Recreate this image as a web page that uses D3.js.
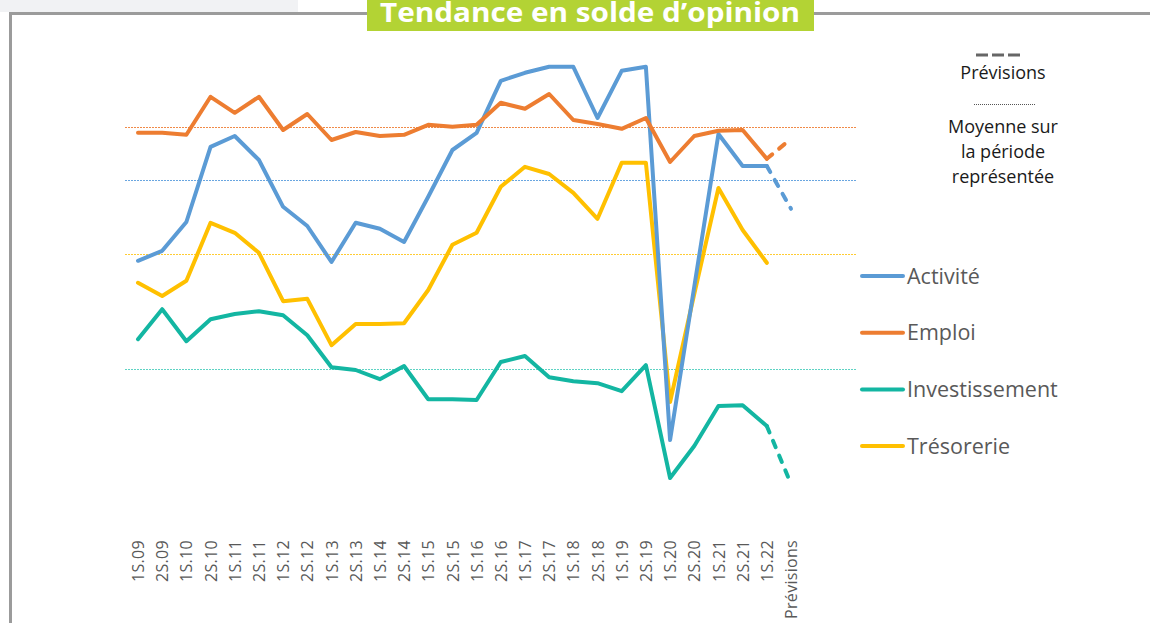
<!DOCTYPE html>
<html>
<head>
<meta charset="utf-8">
<script src="https://cdn.jsdelivr.net/npm/d3@7"></script>
<style>
  body { margin: 0; background: #fff; }
  svg { display: block; }
</style>
</head>
<body>
<svg id="chart" width="1150" height="623"></svg>
<script>
const categories = ["1S.09", "2S.09", "1S.10", "2S.10", "1S.11", "2S.11", "1S.12", "2S.12",
  "1S.13", "2S.13", "1S.14", "2S.14", "1S.15", "2S.15", "1S.16", "2S.16", "1S.17", "2S.17",
  "1S.18", "2S.18", "1S.19", "2S.19", "1S.20", "2S.20", "1S.21", "2S.21", "1S.22", "Prévisions"]

// soldes d'opinion (last value = prévision, null when none)
const activite = [9.8, 12.3, 19.5, 38.3, 41, 35, 23.3, 18.5, 9.5, 19.3, 17.8, 14.5, 25.8, 37.5,
  41.8, 54.8, 56.8, 58.3, 58.3, 45.5, 57.3, 58.3, -35, 3.3, 41.5, 33.5, 33.5, 22.8]
const emploi = [41.8, 41.8, 41.3, 50.8, 46.8, 50.8, 42.5, 46.5, 40, 42, 41, 41.3, 43.8, 43.3,
  43.8, 49.3, 47.8, 51.5, 45, 44, 42.8, 45.5, 34.5, 41, 42.3, 42.5, 35.3, 40.3]
const investissement = [-9.8, -2.3, -10.3, -4.8, -3.5, -2.8, -3.8, -8.8, -16.8, -17.5, -19.8,
  -16.5, -24.8, -24.8, -25, -15.5, -14, -19.3, -20.3, -20.8, -22.8, -16.3, -44.5, -36.5,
  -26.5, -26.3, -31.5, -46]
const tresorerie = [4.3, 1, 4.8, 19.3, 16.8, 11.8, -0.3, 0.3, -11.3, -6, -6, -5.8, 2.5, 13.8,
  16.8, 28.3, 33.3, 31.5, 26.8, 20.3, 34.3, 34.3, -25.5, 1.5, 28, 17.5, 9.3, null]

// moyennes sur la période : emploi, activité, trésorerie, investissement
const moyennes = [43.3, 30, 11.5, -17.3]

const seriesNames = ["Activité", "Emploi", "Investissement", "Trésorerie"]
const seriesValues = [activite, emploi, investissement, tresorerie]
const colors = ["#5b9bd5", "#ed7d31", "#13b6a2", "#ffc000"]
const avgColors = ["#f08a48", "#6aa6e0", "#ffcc33", "#5fd3c4"]

const svg = d3.select("#chart")

// page background + frame
svg.append("rect").attr("x", 0).attr("y", 0).attr("width", 298).attr("height", 12).attr("fill", "#f1f2f4")
svg.append("path")
    .attr("d", "M10.5,630 V13.5 H1160")
    .attr("fill", "none")
    .attr("stroke", "#9b9b9b")
    .attr("stroke-width", 3)

// title
svg.append("rect").attr("x", 367).attr("y", 0).attr("width", 447).attr("height", 31).attr("fill", "#b3d334")
svg.append("text")
    .attr("x", 590).attr("y", 22)
    .attr("text-anchor", "middle")
    .attr("font-family", "'Open Sans', sans-serif")
    .attr("font-weight", 700)
    .attr("font-size", 26)
    .attr("textLength", 420)
    .attr("lengthAdjust", "spacingAndGlyphs")
    .attr("fill", "#fff")
    .text("Tendance en solde d’opinion")

const x = d3.scalePoint().domain(categories).range([138, 791])
const y = d3.scaleLinear().domain([-50, 60]).range([500, 60])

// averages
const avgG = svg.append("g").attr("shape-rendering", "crispEdges")
moyennes.forEach((m, i) => {
    avgG.append("line")
        .attr("x1", 125).attr("x2", 856)
        .attr("y1", Math.round(y(m)) + 0.5).attr("y2", Math.round(y(m)) + 0.5)
        .attr("stroke", avgColors[i])
        .attr("stroke-width", 1)
        .attr("stroke-dasharray", "2,1")
})

// x axis labels
const axis = d3.axisBottom(x).tickSize(0).tickPadding(0)
const axG = svg.append("g").attr("transform", "translate(0,540)").call(axis)
axG.select(".domain").remove()
axG.selectAll("text")
    .attr("transform", "rotate(-90)")
    .attr("x", 0).attr("y", 0).attr("dy", "0.35em")
    .attr("text-anchor", "end")
    .attr("font-family", "'Open Sans', sans-serif")
    .attr("font-size", 16)
    .attr("letter-spacing", 0.3)
    .attr("fill", "#595959")

const line = d3.line()
    .defined((d) => d.v !== null)
    .x((d) => x(d.c))
    .y((d) => y(d.v))

const last = categories.length - 1
const drawOrder = [2, 3, 0, 1]
drawOrder.forEach((s) => {
    const pts = seriesValues[s].map((v, i) => ({ c: categories[i], v }))
    svg.append("path")
        .datum(pts.slice(0, last))
        .attr("d", line)
        .attr("fill", "none")
        .attr("stroke", colors[s])
        .attr("stroke-width", 4)
        .attr("stroke-linejoin", "round")
        .attr("stroke-linecap", "round")
    if (pts[last].v !== null) {
        svg.append("path")
            .datum(pts.slice(last - 1))
            .attr("d", line)
            .attr("fill", "none")
            .attr("stroke", colors[s])
            .attr("stroke-width", 4)
            .attr("stroke-linecap", "round")
            .attr("stroke-dasharray", "7,9")
    }
})

// legend right
const leg = svg.append("g")
seriesNames.forEach((name, i) => {
    const ly = 276 + i * 56.7
    leg.append("line")
        .attr("x1", 862).attr("x2", 903).attr("y1", ly).attr("y2", ly)
        .attr("stroke", colors[i]).attr("stroke-width", 4).attr("stroke-linecap", "round")
    leg.append("text")
        .attr("x", 907).attr("y", ly + 7.5)
        .attr("font-family", "'Open Sans', sans-serif")
        .attr("font-size", 21.5)
        .attr("fill", "#595959")
        .text(name)
})

// legend top right
const tl = svg.append("g").attr("font-family", "'Open Sans', sans-serif").attr("font-size", 18)
    .attr("fill", "#1a1a1a").attr("text-anchor", "middle")
tl.append("line").attr("x1", 976).attr("x2", 1024).attr("y1", 55).attr("y2", 55)
    .attr("stroke", "#666").attr("stroke-width", 3).attr("stroke-dasharray", "12,4")
tl.append("text").attr("x", 1003).attr("y", 79).text("Prévisions")
tl.append("line").attr("x1", 974).attr("x2", 1036).attr("y1", 104.5).attr("y2", 104.5)
    .attr("stroke", "#555").attr("stroke-width", 1).attr("stroke-dasharray", "1,1")
;["Moyenne sur", "la période", "représentée"].forEach((t, i) => {
    tl.append("text").attr("x", 1003).attr("y", 133 + i * 25).text(t)
})
</script>
</body>
</html>
